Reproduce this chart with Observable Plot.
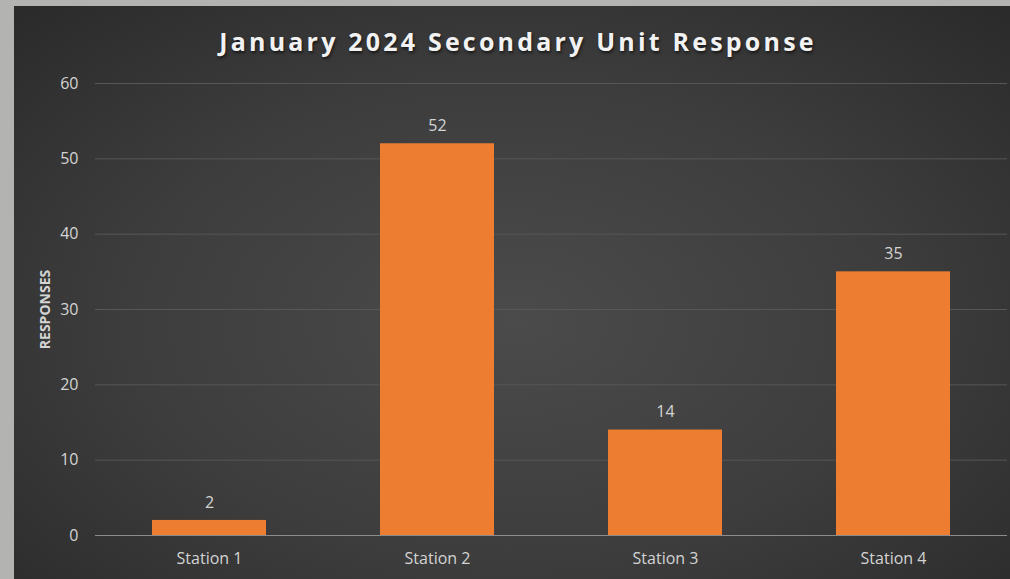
<!DOCTYPE html>
<html>
<head>
<meta charset="utf-8">
<script src="https://cdn.jsdelivr.net/npm/d3@7"></script>
<script src="https://cdn.jsdelivr.net/npm/@observablehq/plot@0.6"></script>
<style>
  html, body { margin: 0; padding: 0; }
  body { width: 1010px; height: 579px; overflow: hidden; background: #b3b3b1; position: relative; font-family: "Open Sans", sans-serif; }
  #panel {
    position: absolute; left: 14px; top: 6px; width: 996px; height: 573px;
    background: radial-gradient(ellipse 70% 75% at 50% 55%, #4b4b4b 0%, #3d3d3d 55%, #2b2b2b 100%);
  }
  #title {
    position: absolute; left: 6px; top: 18px; width: 996px; text-align: center;
    color: #f2f2f2; font-family: "Open Sans", sans-serif; font-weight: 700; font-size: 25px;
    letter-spacing: 3.2px; text-shadow: 1px 2px 3px rgba(0,0,0,0.6);
  }
  #chart { position: absolute; left: 0; top: 50px; }
  #chart svg { background: transparent; font-family: "Open Sans", sans-serif; }
  g[aria-label="y-axis label"] text { font-weight: 700; font-size: 14px; }
</style>
</head>
<body>
<div id="panel">
  <div id="title">January 2024 Secondary Unit Response</div>
  <div id="chart"></div>
</div>
<script>
const stations = ["Station 1", "Station 2", "Station 3", "Station 4"];
const responses = [2, 52, 14, 35];
const yTicks = [0, 10, 20, 30, 40, 50, 60];

const data = stations.map((s, i) => ({station: s, value: responses[i]}));

const chart = Plot.plot({
  width: 996,
  height: 523,
  marginTop: 27,
  marginBottom: 44,
  marginLeft: 81,
  marginRight: 3,
  style: {background: "transparent", color: "#d4d4d4", fontSize: "16px"},
  x: {domain: stations, paddingInner: 0.5, paddingOuter: 0.25, align: 0.5, label: null},
  y: {domain: [0, 60], label: null},
  marks: [
    Plot.gridY(yTicks, {stroke: "#575757", strokeOpacity: 1, strokeWidth: 1}),
    Plot.barY(data, {x: "station", y: "value", fill: "#ED7D31"}),
    Plot.ruleY([0], {stroke: "#8c8c8c", strokeWidth: 1}),
    Plot.text(data, {x: "station", y: "value", text: d => String(d.value), dy: -18, fill: "#d4d4d4", fontSize: 16}),
    Plot.axisY({ticks: yTicks, tickSize: 0, tickPadding: 17, fill: "#d4d4d4", fontSize: 16,
      label: "RESPONSES", labelAnchor: "center", labelArrow: "none", labelOffset: 55}),
    Plot.axisX({tickSize: 0, tickPadding: 17, fill: "#d4d4d4", fontSize: 16, label: null})
  ]
});
document.getElementById("chart").appendChild(chart);
</script>
</body>
</html>
